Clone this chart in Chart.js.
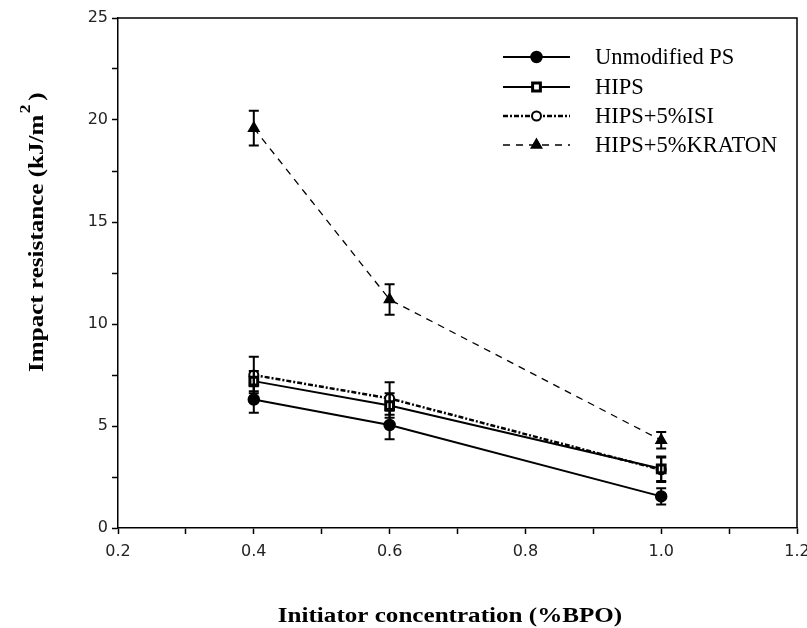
<!DOCTYPE html>
<html>
<head>
<meta charset="utf-8">
<script src="https://cdn.jsdelivr.net/npm/chart.js@4"></script>
<style>
  html, body { margin: 0; padding: 0; background: #fff; }
  #wrap { width: 807px; height: 628px; }
</style>
</head>
<body>
<div id="wrap"><canvas id="myChart" width="807" height="628"></canvas></div>
<script>
// data
const bpo = [0.4, 0.6, 1.0];
const labels = ['Unmodified PS', 'HIPS', 'HIPS+5%ISI', 'HIPS+5%KRATON'];
const unmodPS = [6.3, 5.05, 1.55];
const unmodPSErr = [0.65, 0.7, 0.4];
const hips = [7.2, 6.0, 2.9];
const hipsErr = [0.5, 0.6, 0.6];
const hipsIsi = [7.5, 6.35, 2.85];
const hipsIsiErr = [0.9, 0.8, 0.6];
const hipsKraton = [19.6, 11.2, 4.3];
const hipsKratonErr = [0.85, 0.75, 0.4];
const yTicks = [0, 5, 10, 15, 20, 25];
const xTicks = [0.2, 0.4, 0.6, 0.8, 1.0, 1.2];

const ctx = document.getElementById('myChart');

const pts = (ys) => bpo.map((x, i) => ({ x: x, y: ys[i] }));

// error bars, frame, legend and axis titles drawn through the chart scales
const extras = {
  id: 'extras',
  afterDatasetsDraw(chart) {
    const c = chart.ctx;
    const xs = chart.scales.x, ys = chart.scales.y;
    const a = chart.chartArea;
    c.save();
    c.strokeStyle = '#000';
    c.lineWidth = 2;
    c.setLineDash([]);
    chart.data.datasets.forEach(ds => {
      ds.data.forEach((p, i) => {
        const e = ds.errors[i];
        const px = xs.getPixelForValue(p.x);
        const top = ys.getPixelForValue(p.y + e);
        const bot = ys.getPixelForValue(p.y - e);
        c.beginPath();
        c.moveTo(px, top); c.lineTo(px, bot);
        c.moveTo(px - 5, top); c.lineTo(px + 5, top);
        c.moveTo(px - 5, bot); c.lineTo(px + 5, bot);
        c.stroke();
      });
    });
    // top and right frame
    c.lineWidth = 1.5;
    c.beginPath();
    c.moveTo(a.left, a.top); c.lineTo(a.right, a.top); c.lineTo(a.right, a.bottom);
    c.stroke();

    // legend
    const lx0 = 503, lx1 = 570, tx = 595;
    const rows = [57, 87, 116, 145];
    chart.data.datasets.forEach((ds, i) => {
      const y = rows[i];
      c.strokeStyle = '#000';
      c.lineWidth = ds.borderWidth;
      c.setLineDash(ds.borderDash || []);
      c.beginPath();
      c.moveTo(lx0, y); c.lineTo(lx1, y);
      c.stroke();
      c.setLineDash([]);
      c.fillStyle = ds.pointBackgroundColor;
      c.lineWidth = ds.pointBorderWidth;
      Chart.helpers.drawPoint(c, {
        pointStyle: ds.pointStyle,
        radius: ds.pointRadius,
        borderWidth: ds.pointBorderWidth,
        rotation: 0
      }, (lx0 + lx1) / 2, y);
      c.fillStyle = '#000';
      c.font = '22.5px "Liberation Serif", "Times New Roman", serif';
      c.textBaseline = 'middle';
      c.textAlign = 'left';
      c.fillText(ds.label, tx, y + 1);
    });

    // axis titles (the scanned lettering is a little wide, so stretch it)
    const titleFont = 'bold 20px "Liberation Serif", "Times New Roman", serif';
    c.fillStyle = '#000';
    c.font = titleFont;
    c.textBaseline = 'alphabetic';
    c.textAlign = 'center';
    c.save();
    c.translate(450, 622);
    c.scale(1.255, 1);
    c.fillText('Initiator concentration (%BPO)', 0, 0);
    c.restore();

    c.save();
    c.translate(43, 372);
    c.rotate(-Math.PI / 2);
    c.scale(1.255, 1);
    c.textAlign = 'left';
    const main = 'Impact resistance (kJ/m';
    c.fillText(main, 0, 0);
    let w = c.measureText(main).width;
    c.font = 'bold 14px "Liberation Serif", "Times New Roman", serif';
    c.fillText('2', w + 1, -13);
    w += c.measureText('2').width + 4;
    c.font = titleFont;
    c.fillText(')', w, 0);
    c.restore();
    c.restore();
  }
};

function mkSet(label, ys, errs, opts) {
  return Object.assign({
    label: label,
    data: pts(ys),
    errors: errs,
    borderColor: '#000',
    backgroundColor: '#000',
    pointBorderColor: '#000',
    pointBorderWidth: 1.5,
    borderWidth: 2,
    tension: 0,
    fill: false
  }, opts);
}

new Chart(ctx, {
  type: 'line',
  data: {
    datasets: [
      mkSet(labels[0], unmodPS, unmodPSErr, { pointStyle: 'circle', pointRadius: 5.5, pointBackgroundColor: '#000' }),
      mkSet(labels[1], hips, hipsErr, { pointStyle: 'rect', pointRadius: 5.5, pointBackgroundColor: '#fff', pointBorderWidth: 3 }),
      mkSet(labels[2], hipsIsi, hipsIsiErr, { pointStyle: 'circle', pointRadius: 4.5, pointBackgroundColor: '#fff', pointBorderWidth: 2, borderWidth: 2.5, borderDash: [5, 2, 2, 2] }),
      mkSet(labels[3], hipsKraton, hipsKratonErr, { pointStyle: 'triangle', pointRadius: 6, pointBackgroundColor: '#000', borderWidth: 1.3, borderDash: [7, 6] })
    ]
  },
  options: {
    responsive: false,
    animation: false,
    layout: { padding: { top: 18, right: 10, left: 0, bottom: 0 } },
    plugins: { legend: { display: false }, tooltip: { enabled: false } },
    scales: {
      x: {
        type: 'linear',
        min: 0.2,
        max: 1.2,
        afterFit: (s) => { s.height = 100; s.paddingRight = 0; s.paddingLeft = 0; },
        afterBuildTicks: (s) => { s.ticks = [0.2, 0.3, 0.4, 0.5, 0.6, 0.7, 0.8, 0.9, 1.0, 1.1, 1.2].map(v => ({ value: v })); },
        ticks: {
          maxRotation: 0,
          autoSkip: false,
          padding: 8,
          color: '#222',
          font: { family: 'DejaVu Sans', size: 16 },
          callback: (v) => {
            const hit = xTicks.find(t => Math.abs(t - v) < 1e-6);
            return hit === undefined ? '' : hit.toFixed(1);
          }
        },
        grid: { drawOnChartArea: false, tickLength: 6, color: '#000', tickWidth: 1.5 },
        border: { color: '#000', width: 1.5 }
      },
      y: {
        min: 0,
        max: 25,
        afterFit: (s) => { s.width = 118; s.paddingTop = 0; s.paddingBottom = 0; },
        afterBuildTicks: (s) => {
          const t = [];
          for (let v = 0; v <= 25; v += 2.5) t.push({ value: v });
          s.ticks = t;
        },
        ticks: {
          padding: 4,
          color: '#222',
          font: { family: 'DejaVu Sans', size: 16 },
          callback: (v) => yTicks.includes(v) ? String(v) : ''
        },
        grid: { drawOnChartArea: false, tickLength: 6, color: '#000', tickWidth: 1.5 },
        border: { color: '#000', width: 1.5 }
      }
    }
  },
  plugins: [extras]
});
</script>
</body>
</html>
